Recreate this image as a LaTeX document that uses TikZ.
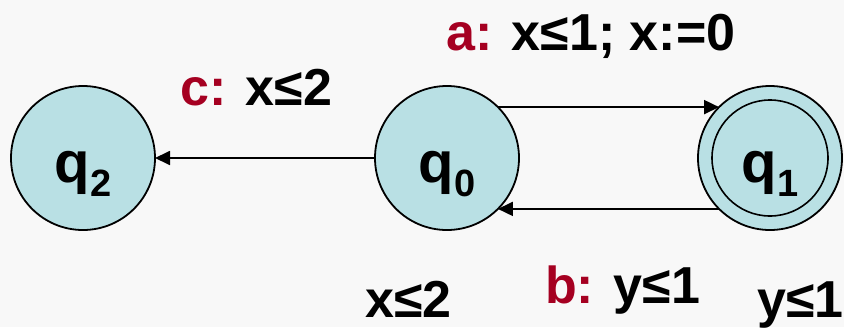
\documentclass[tikz,border=0pt]{standalone}
\usepackage{fontspec}
\setmainfont{Liberation Sans}
\usetikzlibrary{arrows.meta}
\definecolor{bgc}{HTML}{F8F8F8}
\definecolor{statefill}{HTML}{B9E0E4}
\definecolor{actred}{HTML}{A50021}
\tikzset{
  state/.style={circle,draw=black,fill=statefill,line width=1.8pt,minimum size=144pt,inner sep=0pt,outer sep=0pt},
  innerring/.style={circle,draw=black,line width=1.6pt,minimum size=116pt,inner sep=0pt,outer sep=0pt},
  statelbl/.style={anchor=base,inner sep=0pt,font=\bfseries\fontsize{58}{62}\selectfont},
  guard/.style={anchor=base west,inner sep=0pt,font=\bfseries\fontsize{52}{56}\selectfont},
  trans/.style={line width=1.8pt,-{Triangle[length=15pt,width=14pt]}}
}
\newcommand{\stname}[1]{q\raisebox{-14pt}{\fontsize{38}{42}\selectfont #1}}
\begin{document}
\begin{tikzpicture}[x=1pt,y=-1pt]
\fill[bgc] (0,0) rectangle (844,327);
\useasboundingbox (0,0) rectangle (844,327);
\node[state] (q2) at (83,158) {};
\node[state] (q0) at (447,158) {};
\node[state] (q1) at (770,158) {};
\node[innerring] (q1in) at (770,158) {};
\node[statelbl] (q2l) at (83,182) {\stname{2}};
\node[statelbl] (q0l) at (447,182) {\stname{0}};
\node[statelbl] (q1l) at (770,182) {\stname{1}};
\draw[trans] (q0.45) -- (q1.135);
\draw[trans] (q1.225) -- (q0.-45);
\draw[trans] (q0.west) -- (q2.east);
\node[guard] (ga) at (446,50) {\textcolor{actred}{a:} x≤1; x:=0};
\node[guard] (gc) at (180,105) {\textcolor{actred}{c:} x≤2};
\node[guard] (gb) at (545,303) {\textcolor{actred}{b:} y≤1};
\node[guard] (inv0) at (365,317) {x≤2};
\node[guard] (inv1) at (757,317) {y≤1};
\end{tikzpicture}
\end{document}
